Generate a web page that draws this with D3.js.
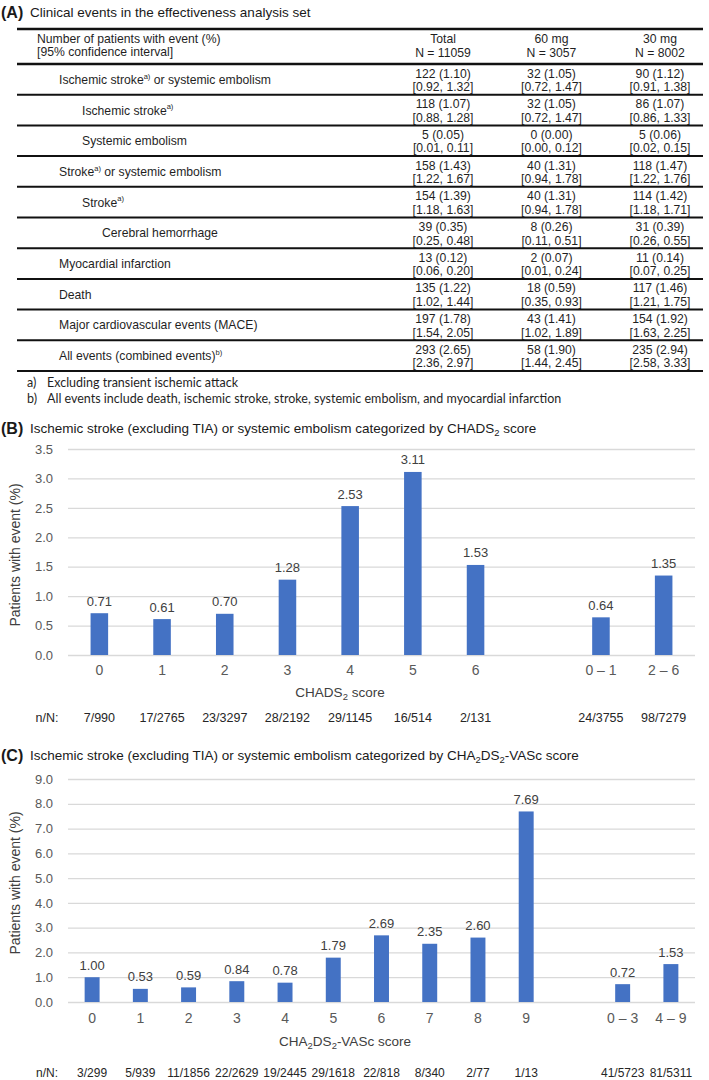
<!DOCTYPE html>
<html>
<head>
<meta charset="utf-8">
<script src="https://cdn.jsdelivr.net/npm/d3@7"></script>
<style>
  body { margin: 0; background: #fff; }
  svg { display: block; font-family: "Liberation Sans", Arial, sans-serif; }
</style>
</head>
<body>
<svg id="chart" width="709" height="1080"></svg>
<script>
// ---------------- DATA ----------------
// Panel A table
const eventLabels = ["Ischemic stroke", "Ischemic stroke", "Systemic embolism", "Stroke", "Stroke",
  "Cerebral hemorrhage", "Myocardial infarction", "Death", "Major cardiovascular events (MACE)",
  "All events (combined events)"];
const eventSup = ["a)", "a)", "", "a)", "a)", "", "", "", "", "b)"];
const eventSuffix = [" or systemic embolism", "", "", " or systemic embolism", "", "", "", "", "", ""];
const eventLevel = [1, 2, 2, 1, 2, 3, 0, 0, 0, 0];
const groupNames = ["Total", "60 mg", "30 mg"];
const groupN = [11059, 3057, 8002];
const totalCounts = [122, 118, 5, 158, 154, 39, 13, 135, 197, 293];
const totalPct = [1.10, 1.07, 0.05, 1.43, 1.39, 0.35, 0.12, 1.22, 1.78, 2.65];
const totalCI = [[0.92, 1.32], [0.88, 1.28], [0.01, 0.11], [1.22, 1.67], [1.18, 1.63], [0.25, 0.48], [0.06, 0.20], [1.02, 1.44], [1.54, 2.05], [2.36, 2.97]];
const mg60Counts = [32, 32, 0, 40, 40, 8, 2, 18, 43, 58];
const mg60Pct = [1.05, 1.05, 0.00, 1.31, 1.31, 0.26, 0.07, 0.59, 1.41, 1.90];
const mg60CI = [[0.72, 1.47], [0.72, 1.47], [0.00, 0.12], [0.94, 1.78], [0.94, 1.78], [0.11, 0.51], [0.01, 0.24], [0.35, 0.93], [1.02, 1.89], [1.44, 2.45]];
const mg30Counts = [90, 86, 5, 118, 114, 31, 11, 117, 154, 235];
const mg30Pct = [1.12, 1.07, 0.06, 1.47, 1.42, 0.39, 0.14, 1.46, 1.92, 2.94];
const mg30CI = [[0.91, 1.38], [0.86, 1.33], [0.02, 0.15], [1.22, 1.76], [1.18, 1.71], [0.26, 0.55], [0.07, 0.25], [1.21, 1.75], [1.63, 2.25], [2.58, 3.33]];
const footnotes = [["a)", "Excluding transient ischemic attack"],
  ["b)", "All events include death, ischemic stroke, stroke, systemic embolism, and myocardial infarction"]];

// Panel B
const chadsCats = ["0", "1", "2", "3", "4", "5", "6", "0 – 1", "2 – 6"];
const chadsValues = [0.71, 0.61, 0.70, 1.28, 2.53, 3.11, 1.53, 0.64, 1.35];
const chadsNN = ["7/990", "17/2765", "23/3297", "28/2192", "29/1145", "16/514", "2/131", "24/3755", "98/7279"];
const chadsTicks = [0, 0.5, 1.0, 1.5, 2.0, 2.5, 3.0, 3.5];

// Panel C
const vascCats = ["0", "1", "2", "3", "4", "5", "6", "7", "8", "9", "0 – 3", "4 – 9"];
const vascValues = [1.00, 0.53, 0.59, 0.84, 0.78, 1.79, 2.69, 2.35, 2.60, 7.69, 0.72, 1.53];
const vascNN = ["3/299", "5/939", "11/1856", "22/2629", "19/2445", "29/1618", "22/818", "8/340", "2/77", "1/13", "41/5723", "81/5311"];
const vascTicks = [0, 1, 2, 3, 4, 5, 6, 7, 8, 9];

// ---------------- DRAW ----------------
const svg = d3.select("#chart");
const f2 = d3.format(".2f");

// helper: rich text with sub/superscript pieces [{t, sub, sup}]
function richText(sel, pieces, baseSize) {
  let pending = 0; // vertical shift to undo on next piece
  pieces.forEach(p => {
    const ts = sel.append("tspan").text(p.t);
    let dy = pending;
    pending = 0;
    if (p.sub) {
      dy += baseSize * 0.3; pending = -baseSize * 0.3;
      ts.attr("font-size", baseSize * 0.7);
    } else if (p.sup) {
      dy += -baseSize * 0.35; pending = baseSize * 0.35;
      ts.attr("font-size", baseSize * 0.62);
    }
    if (dy !== 0) ts.attr("dy", dy);
  });
}

function panelTitle(letter, pieces, y) {
  svg.append("text").attr("x", 1).attr("y", y).attr("dominant-baseline", "central")
    .attr("fill", "#1a1a1a").attr("font-weight", "bold").attr("font-size", 16).text("(" + letter + ")");
  const t2 = svg.append("text").attr("x", 30).attr("y", y).attr("dominant-baseline", "central")
    .attr("font-size", 13.5).attr("fill", "#1a1a1a");
  richText(t2, pieces, 13.5);
}

// ---------- Panel A ----------
panelTitle("A", [{t: "Clinical events in the effectiveness analysis set"}], 12);

const tblLeft = 17, tblRight = 703;
const colX = d3.scalePoint().domain(groupNames).range([443, 660]);
const headerTop = 29, headerBottom = 64;
const rowY = d3.scaleBand().domain(d3.range(eventLabels.length)).range([headerBottom, 371]).padding(0);
const indent = d3.scaleOrdinal().domain([0, 1, 2, 3]).range([59, 59, 82, 102]);
const tcol = "#1f1f1f";

const A = svg.append("g").attr("font-size", 12.2).attr("fill", tcol);
A.append("text").attr("x", 37).attr("y", 39).attr("dominant-baseline", "central").text("Number of patients with event (%)");
A.append("text").attr("x", 37).attr("y", 52).attr("dominant-baseline", "central").text("[95% confidence interval]");
groupNames.forEach((g, i) => {
  A.append("text").attr("x", colX(g)).attr("y", 39).attr("text-anchor", "middle").attr("dominant-baseline", "central").text(g);
  A.append("text").attr("x", colX(g)).attr("y", 53).attr("text-anchor", "middle").attr("dominant-baseline", "central").text("N = " + groupN[i]);
});

const groupsData = [
  [totalCounts, totalPct, totalCI],
  [mg60Counts, mg60Pct, mg60CI],
  [mg30Counts, mg30Pct, mg30CI]
];

eventLabels.forEach((lab, i) => {
  const y0 = rowY(i), h = rowY.bandwidth();
  const t = A.append("text").attr("x", indent(eventLevel[i])).attr("y", y0 + h / 2 + 0.5)
    .attr("dominant-baseline", "central");
  const pieces = [{t: lab}];
  if (eventSup[i]) pieces.push({t: eventSup[i], sup: true});
  if (eventSuffix[i]) pieces.push({t: eventSuffix[i]});
  richText(t, pieces, 12.2);
  groupsData.forEach((gd, j) => {
    const cx = colX(groupNames[j]);
    A.append("text").attr("x", cx).attr("y", y0 + 9.5).attr("text-anchor", "middle").attr("dominant-baseline", "central")
      .text(gd[0][i] + " (" + f2(gd[1][i]) + ")");
    A.append("text").attr("x", cx).attr("y", y0 + 23).attr("text-anchor", "middle").attr("dominant-baseline", "central")
      .text("[" + f2(gd[2][i][0]) + ", " + f2(gd[2][i][1]) + "]");
  });
});

// table rules
svg.append("line").attr("x1", tblLeft).attr("x2", tblRight).attr("y1", headerTop).attr("y2", headerTop)
  .attr("stroke", "#111").attr("stroke-width", 2.5);
svg.append("line").attr("x1", tblLeft).attr("x2", tblRight).attr("y1", headerBottom).attr("y2", headerBottom)
  .attr("stroke", "#111").attr("stroke-width", 2.5);
eventLabels.forEach((d, i) => {
  const y = rowY(i) + rowY.bandwidth();
  svg.append("line").attr("x1", tblLeft).attr("x2", tblRight).attr("y1", y).attr("y2", y)
    .attr("stroke", "#111").attr("stroke-width", 2);
});

// footnotes
footnotes.forEach((fn, i) => {
  const y = 382 + i * 16;
  svg.append("text").attr("x", 27).attr("y", y).attr("dominant-baseline", "central")
    .attr("font-family", "Lato, 'Open Sans', sans-serif").attr("font-size", 12.5).attr("fill", tcol).text(fn[0]);
  svg.append("text").attr("x", 47).attr("y", y).attr("dominant-baseline", "central")
    .attr("font-family", "Lato, 'Open Sans', sans-serif").attr("font-size", 12.5).attr("fill", tcol).text(fn[1]);
});

// ---------- Bar chart helper ----------
function barChart(opts) {
  const {cats, values, nn, ticks, yMax, yTop, yBottom, gapAfter, pad, titlePieces, titleX, titleY, labelPad, nnY, yTitleY, nnSize} = opts;
  const left = 68, right = 695;
  const domain = cats.slice(0, gapAfter).concat(["__gap__"], cats.slice(gapAfter));
  const x = d3.scaleBand().domain(domain).range([left, right]).paddingInner(pad).paddingOuter(pad / 2);
  const y = d3.scaleLinear().domain([0, yMax]).range([yBottom, yTop]);
  const g = svg.append("g");

  // gridlines + y tick labels
  const yAxis = g.append("g").attr("transform", `translate(${left},0)`)
    .call(d3.axisLeft(y).tickValues(ticks).tickFormat(d3.format(".1f")).tickSize(-(right - left)).tickPadding(15));
  yAxis.select(".domain").remove();
  yAxis.selectAll(".tick line").attr("stroke", "#d9d9d9").attr("stroke-width", 1.3);
  yAxis.selectAll(".tick text").attr("fill", "#595959").attr("font-size", 13)
    .attr("font-family", "'Liberation Sans', Arial, sans-serif");

  // bars
  g.selectAll("rect.bar").data(cats).join("rect").attr("class", "bar")
    .attr("x", d => x(d)).attr("width", x.bandwidth())
    .attr("y", (d, i) => y(values[i])).attr("height", (d, i) => y(0) - y(values[i]))
    .attr("fill", "#4472c4");

  // value labels
  g.selectAll("text.val").data(cats).join("text").attr("class", "val")
    .attr("x", d => x(d) + x.bandwidth() / 2).attr("y", (d, i) => y(values[i]) - 12)
    .attr("text-anchor", "middle").attr("dominant-baseline", "central")
    .attr("font-size", 13).attr("fill", "#404040").text((d, i) => f2(values[i]));

  // x axis labels
  const xAxis = g.append("g").attr("transform", `translate(0,${yBottom})`)
    .call(d3.axisBottom(x).tickValues(cats).tickSize(0).tickPadding(labelPad));
  xAxis.select(".domain").remove();
  xAxis.selectAll(".tick text").attr("fill", "#595959").attr("font-size", 14)
    .attr("font-family", "'Liberation Sans', Arial, sans-serif");

  // x axis title
  const tt = g.append("text").attr("x", titleX).attr("y", titleY).attr("text-anchor", "middle")
    .attr("dominant-baseline", "central").attr("font-size", 13.5).attr("fill", "#404040");
  richText(tt, titlePieces, 13.5);

  // y axis title
  g.append("text").attr("transform", `translate(15,${yTitleY}) rotate(-90)`).attr("text-anchor", "middle")
    .attr("dominant-baseline", "central").attr("font-size", 14).attr("fill", "#404040")
    .text("Patients with event (%)");

  // n/N row
  g.append("text").attr("x", 47).attr("y", nnY).attr("text-anchor", "middle").attr("dominant-baseline", "central")
    .attr("font-size", nnSize).attr("fill", "#262626").text("n/N:");
  g.selectAll("text.nn").data(cats).join("text").attr("class", "nn")
    .attr("x", d => x(d) + x.bandwidth() / 2).attr("y", nnY)
    .attr("text-anchor", "middle").attr("dominant-baseline", "central")
    .attr("font-size", nnSize).attr("fill", "#262626").text((d, i) => nn[i]);
}

// ---------- Panel B ----------
panelTitle("B", [{t: "Ischemic stroke (excluding TIA) or systemic embolism categorized by CHADS"}, {t: "2", sub: true}, {t: " score"}], 428);
barChart({
  cats: chadsCats, values: chadsValues, nn: chadsNN, ticks: chadsTicks, yMax: 3.5,
  yTop: 449, yBottom: 655, gapAfter: 7, pad: 0.72, labelPad: 10,
  titlePieces: [{t: "CHADS"}, {t: "2", sub: true}, {t: " score"}], titleX: 340, titleY: 692,
  nnY: 718, yTitleY: 555, nnSize: 12.5
});

// ---------- Panel C ----------
panelTitle("C", [{t: "Ischemic stroke (excluding TIA) or systemic embolism categorized by CHA"}, {t: "2", sub: true},
  {t: "DS"}, {t: "2", sub: true}, {t: "-VASc score"}], 755);
barChart({
  cats: vascCats, values: vascValues, nn: vascNN, ticks: vascTicks, yMax: 9,
  yTop: 779, yBottom: 1002, gapAfter: 10, pad: 0.69, labelPad: 11,
  titlePieces: [{t: "CHA"}, {t: "2", sub: true}, {t: "DS"}, {t: "2", sub: true}, {t: "-VASc score"}], titleX: 345, titleY: 1041,
  nnY: 1073, yTitleY: 883, nnSize: 12
});
</script>
</body>
</html>
